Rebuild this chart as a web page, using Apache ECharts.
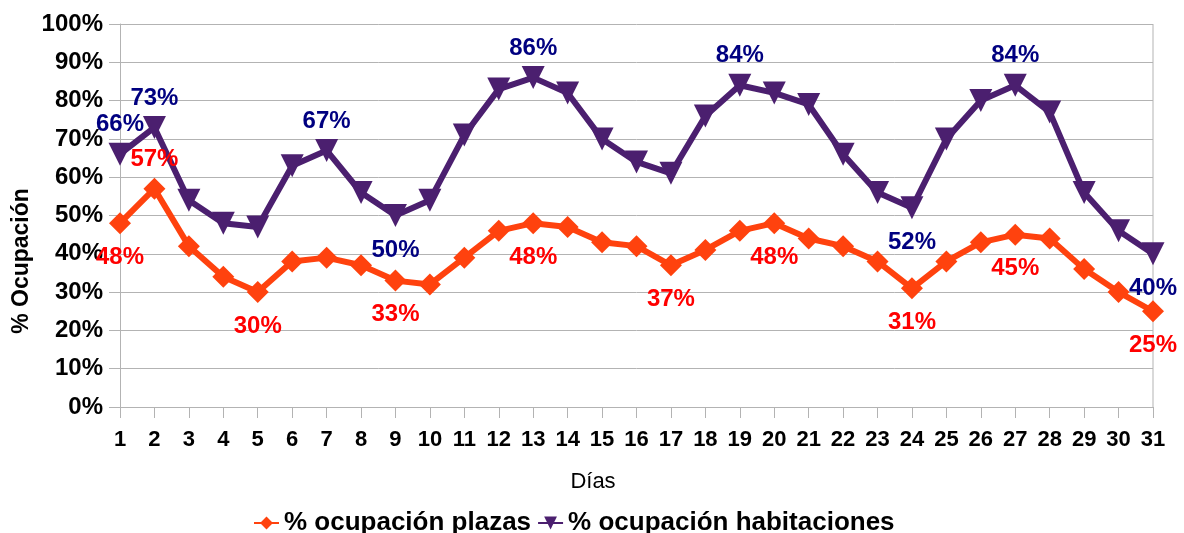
<!DOCTYPE html>
<html>
<head>
<meta charset="utf-8">
<title>Ocupación</title>
<script src="https://cdn.jsdelivr.net/npm/echarts@6/dist/echarts.min.js"></script>
<style>
  html, body { margin: 0; padding: 0; background: #fff; }
  #main { width: 1184px; height: 533px; }
</style>
</head>
<body>
<div id="main"></div>
<script>
// días del mes
const dias = ['1','2','3','4','5','6','7','8','9','10','11','12','13','14','15','16','17','18','19','20','21','22','23','24','25','26','27','28','29','30','31'];

// % ocupación plazas
const plazas = [48, 57, 42, 34, 30, 38, 39, 37, 33, 32, 39, 46, 48, 47, 43, 42, 37, 41, 46, 48, 44, 42, 38, 31, 38, 43, 45, 44, 36, 30, 25];

// % ocupación habitaciones
const habitaciones = [66, 73, 54, 48, 47, 63, 67, 56, 50, 54, 71, 83, 86, 82, 70, 64, 61, 76, 84, 82, 79, 66, 56, 52, 70, 80, 84, 77, 56, 46, 40];

const yTicks = [0, 10, 20, 30, 40, 50, 60, 70, 80, 90, 100];

// qué puntos llevan etiqueta y dónde (índice -> posición)
const etiquetasPlazas = {0: 'bottom', 1: 'top', 4: 'bottom', 8: 'bottom', 12: 'bottom', 16: 'bottom', 19: 'bottom', 23: 'bottom', 26: 'bottom', 30: 'bottom'};
const etiquetasHab = {0: 'top', 1: 'top', 6: 'top', 8: 'bottom', 12: 'top', 18: 'top', 23: 'bottom', 26: 'top', 30: 'bottom'};

let conEtiquetas = function (valores, etiquetas, color) {
    let out = [];
    for (let i = 0; i < valores.length; i++) {
        let pos = etiquetas[i];
        if (pos) {
            out.push({
                value: valores[i],
                label: {
                    show: true,
                    position: pos,
                    distance: pos === 'top' ? 6 : 11,
                    formatter: '{c}%',
                    color: color,
                    fontFamily: 'Liberation Sans',
                    fontWeight: 'bold',
                    fontSize: 24
                }
            });
        } else {
            out.push(valores[i]);
        }
    }
    return out;
};

let myChart = echarts.init(document.getElementById('main'));

let option = {
    animation: false,
    backgroundColor: '#ffffff',
    grid: { left: 120, right: 31, top: 24, bottom: 126 },
    legend: {
        left: 248,
        top: 505,
        itemWidth: 25,
        itemHeight: 16,
        itemGap: 6,
        textStyle: { fontFamily: 'Liberation Sans', fontWeight: 'bold', fontSize: 26, color: '#000' },
        data: ['% ocupación plazas', '% ocupación habitaciones']
    },
    xAxis: {
        type: 'category',
        boundaryGap: false,
        data: dias,
        axisLine: { lineStyle: { color: '#b3b3b3', width: 1 } },
        axisTick: { show: true, length: 11, lineStyle: { color: '#b3b3b3' } },
        axisLabel: {
            margin: 22,
            color: '#000',
            fontFamily: '"Liberation Sans Narrow", "Arial Narrow", "Liberation Sans", sans-serif',
            fontWeight: 'bold',
            fontSize: 22,
            interval: 0
        },
        splitLine: { show: false }
    },
    yAxis: {
        type: 'value',
        min: yTicks[0],
        max: yTicks[yTicks.length - 1],
        interval: 10,
        axisLine: { show: true, lineStyle: { color: '#b3b3b3' } },
        axisTick: { show: true, length: 11, lineStyle: { color: '#b3b3b3' } },
        axisLabel: {
            margin: 17,
            formatter: '{value}%',
            color: '#000',
            fontFamily: 'Liberation Sans',
            fontWeight: 'bold',
            fontSize: 24
        },
        splitLine: { show: true, lineStyle: { color: '#b3b3b3', width: 1 } }
    },
    graphic: [
        {
            type: 'text',
            x: 22,
            y: 261,
            rotation: Math.PI / 2,
            style: {
                text: '% Ocupación',
                fontFamily: 'Liberation Sans',
                fontWeight: 'bold',
                fontSize: 23,
                fill: '#000',
                align: 'center',
                verticalAlign: 'middle'
            }
        },
        {
            type: 'text',
            x: 593,
            y: 482,
            style: {
                text: 'Días',
                fontFamily: 'Liberation Sans',
                fontSize: 22,
                fill: '#000',
                align: 'center',
                verticalAlign: 'middle'
            }
        },
        {
            // borde derecho del área de trazado
            type: 'line',
            shape: { x1: 1153, y1: 24, x2: 1153, y2: 407 },
            style: { stroke: '#b3b3b3', lineWidth: 1 }
        }
    ],
    series: [
        {
            name: '% ocupación plazas',
            type: 'line',
            data: conEtiquetas(plazas, etiquetasPlazas, '#ff0000'),
            symbol: 'diamond',
            symbolSize: 22,
            color: '#ff420e',
            lineStyle: { width: 6, color: '#ff420e' },
            itemStyle: { color: '#ff420e' },
            z: 3
        },
        {
            name: '% ocupación habitaciones',
            type: 'line',
            data: conEtiquetas(habitaciones, etiquetasHab, '#000080'),
            symbol: 'triangle',
            symbolRotate: 180,
            symbolSize: 23,
            color: '#4b1f6f',
            lineStyle: { width: 6, color: '#4b1f6f' },
            itemStyle: { color: '#4b1f6f' },
            z: 2
        }
    ]
};

myChart.setOption(option);
</script>
</body>
</html>
